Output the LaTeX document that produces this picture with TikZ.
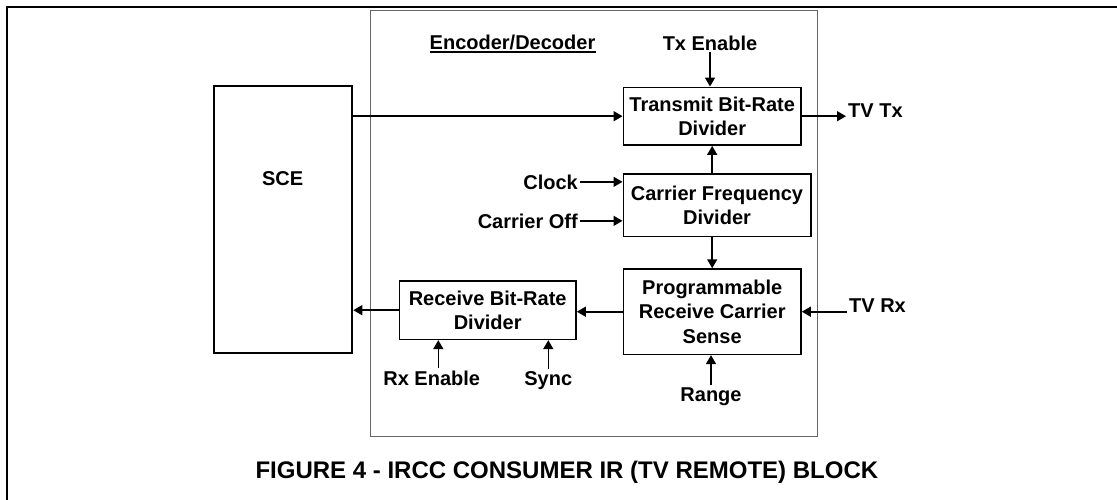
\documentclass[tikz,border=0pt]{standalone}
\usepackage{fontspec}
\setmainfont{Liberation Sans}
\usetikzlibrary{arrows.meta,calc}
\begin{document}
\begin{tikzpicture}[x=1pt,y=-1pt,
  every node/.style={font=\bfseries\fontsize{20}{24.5}\selectfont, inner sep=0pt},
  blk/.style={draw, line width=1.6pt, align=center},
  lbl/.style={inner sep=2pt},
  arr/.style={line width=1.6pt, -{Triangle[length=9pt,width=10pt]}},
  capt/.style={font=\bfseries\fontsize{24}{28}\selectfont}]
\useasboundingbox (0,0) rectangle (1117,499);
% outer frame (open to right and bottom)
\draw[line width=2.2pt] (6.7,505) -- (6.7,6.7) -- (1125,6.7);
% encoder/decoder region
\node[draw=black!60, line width=1.1pt, minimum width=447pt, minimum height=426pt] (encdec) at (594.2,223.7) {};
\node[anchor=base] (enct) at (512.5,49.5) {Encoder/Decoder};
\draw[line width=1.5pt] ([yshift=-2.4pt]enct.base west) -- ([yshift=-2.4pt]enct.base east);
% SCE
\node[draw, line width=2pt, minimum width=138pt, minimum height=266.7pt] (sce) at (283.3,219.3) {};
\node[lbl, anchor=base] (scet) at (282.7,185) {SCE};
% blocks
\node[blk, minimum width=177.7pt, minimum height=57.7pt] (tx) at (712.2,116.2) {Transmit Bit-Rate\\Divider};
\node[blk, minimum width=187.4pt, minimum height=62.7pt] (cf) at (717,205.3) {Carrier Frequency\\Divider};
\node[blk, minimum width=177.7pt, minimum height=85.3pt] (prog) at (712.2,311.7) {Programmable\\Receive Carrier\\Sense};
\node[blk, minimum width=176.7pt, minimum height=58.3pt] (rx) at (487.7,310.2) {Receive Bit-Rate\\Divider};
% labels
\node[lbl, anchor=base] (txen) at (710,50) {Tx Enable};
\node[lbl, anchor=base west] (tvtx) at (846,117) {TV Tx};
\node[lbl, anchor=base east] (clk) at (580,189) {Clock};
\node[lbl, anchor=base east] (coff) at (580,228) {Carrier Off};
\node[lbl, anchor=base west] (tvrx) at (847,312.5) {TV Rx};
\node[lbl, anchor=base] (rxen) at (431.7,385) {Rx Enable};
\node[lbl, anchor=base] (sync) at (548.3,385) {Sync};
\node[lbl, anchor=base] (range) at (711,401) {Range};
% connectors
\draw[arr] (sce.east |- tx.west) -- (tx.west);
\draw[arr] (tx.east) -- (tx.east -| tvtx.west);
\draw[arr] (txen.south) -- (txen.south |- tx.north);
\draw[arr] (cf.north -| tx.south) -- (tx.south);
\draw[arr] (clk.east) -- (clk.east -| cf.west);
\draw[arr] (coff.east) -- (coff.east -| cf.west);
\draw[arr] (cf.south -| prog.north) -- (prog.north);
\draw[arr] (tvrx.west |- prog.east) -- (prog.east);
\draw[arr] (prog.west) -- (prog.west -| rx.east);
\draw[arr] (rx.west) -- (rx.west -| sce.east);
\draw[arr] ([xshift=6.6pt]rxen.north) -- ([xshift=6.6pt]rxen.north |- rx.south);
\draw[arr] (sync.north) -- (sync.north |- rx.south);
\draw[arr] (range.north) -- (range.north |- prog.south);
% caption
\node[capt, anchor=base] (cap) at (566.9,478.3) {FIGURE 4 - IRCC CONSUMER IR (TV REMOTE) BLOCK};
\end{tikzpicture}
\end{document}
